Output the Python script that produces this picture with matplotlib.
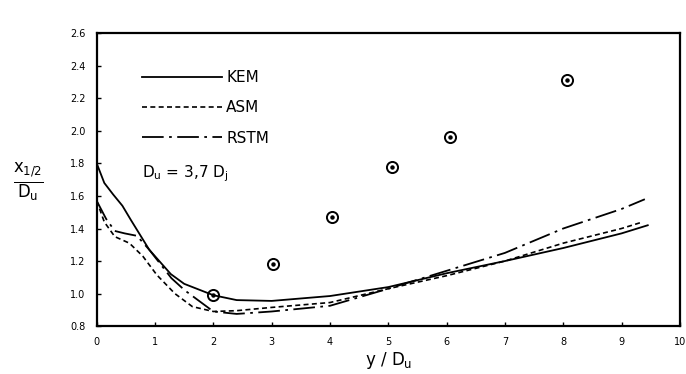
import matplotlib
matplotlib.use("Agg")
import matplotlib.pyplot as plt
from matplotlib.lines import Line2D

# x_1/2 / D_u against y / D_u, D_u = 3.7 D_j
kem_x = [0, 0.13, 0.28, 0.44, 0.59, 0.9, 1.27, 1.5, 2.0, 2.4, 3.0, 4.0, 5.0, 6.0, 7.0, 8.0, 9.0, 9.45]
kem_y = [1.80, 1.68, 1.61, 1.54, 1.45, 1.27, 1.12, 1.06, 0.99, 0.96, 0.955, 0.985, 1.04, 1.125, 1.20, 1.28, 1.37, 1.42]

asm_x = [0, 0.13, 0.31, 0.56, 0.79, 1.03, 1.34, 1.64, 2.0, 2.4, 3.0, 4.0, 5.0, 6.0, 7.0, 8.0, 9.0, 9.36]
asm_y = [1.57, 1.44, 1.35, 1.31, 1.23, 1.115, 1.0, 0.92, 0.89, 0.895, 0.915, 0.945, 1.03, 1.11, 1.20, 1.31, 1.40, 1.44]

rstm_x = [0, 0.16, 0.31, 0.48, 0.69, 0.9, 1.28, 1.51, 2.0, 2.4, 3.0, 4.0, 5.0, 6.0, 7.0, 8.0, 9.0, 9.4]
rstm_y = [1.57, 1.46, 1.385, 1.37, 1.355, 1.27, 1.095, 1.02, 0.89, 0.875, 0.89, 0.925, 1.03, 1.14, 1.25, 1.40, 1.52, 1.58]

meas_x = [2.0, 3.03, 4.04, 5.06, 6.05, 8.06]
meas_y = [0.99, 1.18, 1.47, 1.78, 1.96, 2.31]

x_ticks = list(range(0, 11))
y_ticks = [0.8, 1.0, 1.2, 1.4, 1.6, 1.8, 2.0, 2.2, 2.4, 2.6]

fig = plt.figure(figsize=(6.86, 3.74), dpi=100)
ax = fig.add_axes([0.141, 0.128, 0.85, 0.783])

ax.plot(kem_x, kem_y, color="black", lw=1.3, label="KEM")
ax.plot(asm_x, asm_y, color="black", lw=1.2, dashes=(3, 2), label="ASM")
ax.plot(rstm_x, rstm_y, color="black", lw=1.3, dashes=(12, 3, 1.5, 3), label="RSTM")

# measured points: open circle with a dot in the middle
ax.plot(meas_x, meas_y, "o", ms=8, mfc="none", mec="black", mew=1.4)
ax.plot(meas_x, meas_y, "o", ms=2.2, color="black")

ax.set_xlim(0, 10)
ax.set_ylim(0.8, 2.6)
ax.set_xticks(x_ticks)
ax.set_yticks(y_ticks)
ax.set_xticklabels([str(v) for v in x_ticks])
ax.set_yticklabels([f"{v:.1f}" for v in y_ticks])
ax.tick_params(direction="in", length=3, width=1, labelsize=7, pad=8)
for s in ax.spines.values():
    s.set_linewidth(1.6)

handles = [
    Line2D([], [], color="black", lw=1.3),
    Line2D([], [], color="black", lw=1.2, dashes=(3, 2)),
    Line2D([], [], color="black", lw=1.3, dashes=(12, 3, 1.5, 3)),
]
ax.legend(handles, ["KEM", "ASM", "RSTM"], loc="upper left", bbox_to_anchor=(0.065, 0.9),
          frameon=False, fontsize=11, handlelength=5.2, handletextpad=0.3,
          labelspacing=1.0, borderpad=0)
ax.text(0.078, 0.52, r"D$_{\mathrm{u}}$ = 3,7 D$_{\mathrm{j}}$", transform=ax.transAxes,
        fontsize=11, va="center")

ax.set_xlabel(r"y / D$_{\mathrm{u}}$", fontsize=12, labelpad=2)
fig.text(0.042, 0.513, r"$\frac{\mathrm{x_{1/2}}}{\mathrm{D_u}}$", fontsize=17,
         ha="center", va="center")

fig.savefig("out.png", dpi=100, facecolor="white")
